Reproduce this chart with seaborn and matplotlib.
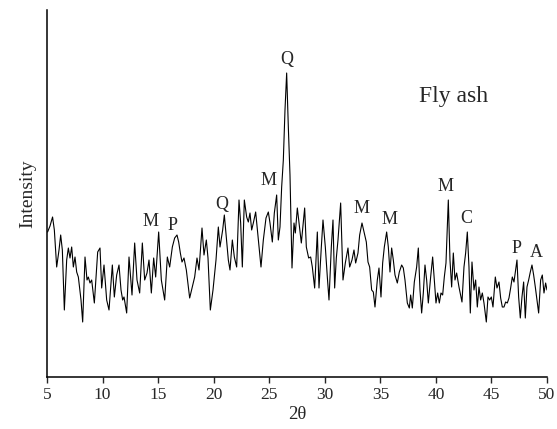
import numpy as np
import pandas as pd
import matplotlib
matplotlib.use("Agg")
import matplotlib.pyplot as plt
import seaborn as sns

# ==========================================
# XRD pattern of fly ash
# ==========================================
two_theta = [
    5.05, 5.27, 5.50, 5.66, 5.87, 6.08, 6.23, 6.38, 6.56, 6.77, 6.92, 7.07, 7.22, 7.37, 7.52, 7.67,
    7.82, 8.06, 8.21, 8.42, 8.60, 8.72, 8.87, 9.02, 9.26, 9.56, 9.77, 9.92, 10.13, 10.37, 10.58, 10.88,
    11.06, 11.27, 11.48, 11.66, 11.81, 11.93, 12.17, 12.38, 12.65, 12.89, 13.10, 13.34, 13.58, 13.79,
    14.00, 14.18, 14.39, 14.60, 14.78, 15.05, 15.29, 15.59, 15.83, 16.04, 16.28, 16.49, 16.70, 16.85,
    17.00, 17.15, 17.33, 17.54, 17.84, 18.08, 18.29, 18.50, 18.68, 18.95, 19.13, 19.34, 19.49, 19.70,
    19.94, 20.21, 20.42, 20.57, 20.81, 20.96, 21.17, 21.32, 21.47, 21.68, 21.86, 22.07, 22.28, 22.43,
    22.58, 22.76, 22.97, 23.12, 23.27, 23.42, 23.57, 23.78, 23.96, 24.11, 24.26, 24.47, 24.71, 24.92,
    25.07, 25.28, 25.46, 25.67, 25.82, 25.97, 26.12, 26.27, 26.42, 26.57, 26.72, 26.87, 27.05, 27.23,
    27.35, 27.53, 27.68, 27.89, 28.19, 28.34, 28.55, 28.73, 28.88, 29.09, 29.33, 29.48, 29.69, 29.84,
    30.05, 30.23, 30.38, 30.59, 30.74, 30.89, 31.04, 31.19, 31.43, 31.64, 31.85, 32.09, 32.24, 32.45,
    32.63, 32.78, 32.99, 33.14, 33.35, 33.53, 33.74, 33.89, 34.04, 34.22, 34.37, 34.52, 34.73, 34.88,
    35.06, 35.21, 35.36, 35.57, 35.72, 35.87, 36.02, 36.17, 36.32, 36.53, 36.71, 36.92, 37.07, 37.22,
    37.43, 37.61, 37.73, 37.88, 38.06, 38.27, 38.42, 38.57, 38.72, 38.87, 39.02, 39.17, 39.32, 39.53,
    39.71, 39.86, 40.01, 40.16, 40.31, 40.46, 40.61, 40.76, 40.91, 41.12, 41.27, 41.42, 41.57, 41.72,
    41.87, 42.08, 42.35, 42.53, 42.68, 42.83, 42.98, 43.10, 43.25, 43.43, 43.58, 43.73, 43.88, 44.03,
    44.18, 44.33, 44.54, 44.69, 44.84, 44.99, 45.14, 45.35, 45.50, 45.68, 45.83, 45.98, 46.13, 46.28,
    46.43, 46.58, 46.73, 46.88, 47.03, 47.15, 47.30, 47.45, 47.60, 47.75, 47.90, 48.05, 48.20, 48.35,
    48.50, 48.65, 48.80, 48.95, 49.10, 49.25, 49.43, 49.58, 49.73, 49.88, 50.00,
]
intensity = [
    148, 154, 163, 150, 113, 130, 145, 130, 70, 120, 132, 122, 133, 113, 123, 108,
    103, 80, 58, 123, 100, 103, 97, 100, 77, 128, 132, 92, 115, 80, 70, 115,
    83, 105, 115, 90, 80, 83, 67, 123, 85, 137, 100, 87, 137, 100,
    107, 120, 87, 122, 103, 148, 100, 80, 123, 113, 133, 142, 145, 138,
    127, 118, 122, 110, 82, 93, 103, 122, 110, 152, 125, 140, 122, 70,
    90, 120, 153, 133, 150, 165, 138, 120, 110, 140, 123, 113, 180, 157,
    113, 180, 163, 158, 167, 150, 157, 168, 147, 130, 113, 140, 162, 168,
    157, 138, 167, 185, 140, 153, 193, 220, 270, 307, 253, 205, 112, 157,
    147, 172, 157, 137, 172, 133, 122, 123, 113, 92, 148, 92, 133, 160,
    133, 103, 80, 133, 160, 92, 122, 140, 177, 100, 117, 132, 113, 120,
    130, 117, 127, 145, 157, 148, 138, 118, 113, 90, 88, 73, 100, 112,
    83, 117, 133, 148, 133, 108, 132, 120, 105, 97, 108, 115, 112, 100,
    77, 72, 85, 72, 98, 113, 132, 90, 67, 87, 115, 100, 77, 103,
    123, 100, 77, 87, 77, 87, 85, 103, 117, 180, 120, 93, 127, 100,
    107, 93, 78, 113, 127, 148, 113, 67, 118, 90, 100, 73, 93, 80,
    87, 77, 58, 83, 80, 83, 73, 103, 92, 98, 82, 73, 73, 78,
    77, 82, 92, 103, 98, 108, 120, 83, 62, 83, 98, 62, 93, 100,
    108, 115, 105, 93, 80, 67, 100, 105, 87, 97, 90,
]

# phase labels above the peaks
phase_labels = ["M", "P", "Q", "M", "Q", "M", "M", "M", "C", "P", "A"]
label_x = [14.36, 16.34, 20.75, 24.9, 26.6, 33.35, 35.87, 40.91, 42.71, 47.3, 49.0]
label_y = [159, 155, 176, 200, 320, 172, 161, 194, 162, 132, 128]

df = pd.DataFrame({"two_theta": two_theta, "intensity": intensity})

sns.set_style("ticks")
plt.rcParams["font.family"] = ["Liberation Serif", "DejaVu Serif"]

fig = plt.figure(figsize=(5.57, 4.29), dpi=100)
ax = fig.add_axes([0.0844, 0.1212, 0.8976, 0.8555])

sns.lineplot(data=df, x="two_theta", y="intensity", ax=ax, color="black", lw=0.8, sort=False)

for lab, lx, ly in zip(phase_labels, label_x, label_y):
    ax.text(lx, ly, lab, ha="center", va="center", fontsize=13)
ax.text(38.5, 283, "Fly ash", ha="left", va="center", fontsize=17)

ax.set_xlim(5, 50)
ax.set_ylim(3, 370)
ax.set_xticks(np.arange(5, 51, 5))
ax.set_yticks([])
ax.tick_params(axis="x", direction="out", length=4, width=1, labelsize=12.5, pad=3)
ax.set_xlabel("2θ", fontsize=13.5, labelpad=2)
ax.set_ylabel("Intensity", fontsize=14, labelpad=8)
for s in ["top", "right"]:
    ax.spines[s].set_visible(False)
for s in ["left", "bottom"]:
    ax.spines[s].set_linewidth(1.1)
    ax.spines[s].set_color("black")

fig.savefig("out.png", dpi=100)
